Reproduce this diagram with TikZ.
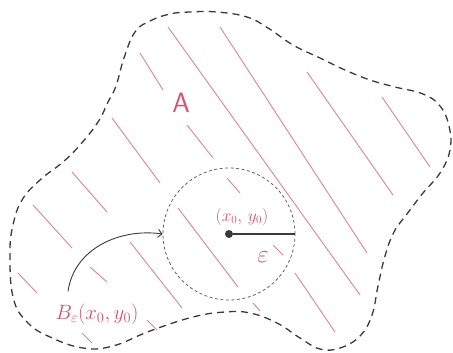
\documentclass[tikz,border=0pt]{standalone}
\usetikzlibrary{arrows.meta}
\definecolor{pinkink}{HTML}{D9506F}
\definecolor{hatchpink}{HTML}{E08196}
\definecolor{pencil}{HTML}{3A3A3A}
\begin{document}
\begin{tikzpicture}[x=1pt,y=-1pt,>={Straight Barb[length=4pt]},
  hatch/.style={hatchpink,line width=0.9pt},
  pinklabel/.style={text=pinkink,inner sep=0pt}]
\useasboundingbox (0,0) rectangle (453,353);
% hatching of the set A
\foreach \ax/\ay/\bx/\by in {140/53/163/90, 168/27/360/295, 220/27/367/253, 187/125/213/158,
  295/273/335/332, 307/72/393/195, 382/97/430/167, 112/118/160/183, 72/172/107/212,
  33/205/72/248, 227/178/240/193, 178/208/238/287, 130/242/182/308, 18/273/37/293,
  90/267/107/282, 147/320/157/330, 82/333/92/343, 273/245/283/255, 253/303/260/311}
  \draw[hatch] (\ax,\ay) -- (\bx,\by);
% outline of A
\draw[pencil,line width=1.3pt,dash pattern=on 7pt off 5pt] plot[smooth cycle,tension=0.7] coordinates {
  (135,32) (150,21) (170,14) (190,12) (217,12) (247,17) (268,28) (293,45) (320,58) (345,70)
  (370,80) (395,87) (423,94) (440,106) (449,126) (450,150) (440,173) (423,193) (407,214)
  (394,232) (385,256) (378,286) (372,315) (360,336) (340,348) (320,349) (300,338) (277,323)
  (250,313) (225,312) (193,317) (150,331) (113,346) (83,348) (50,337) (27,322) (13,297)
  (10,252) (13,225) (22,200) (40,180) (63,162) (80,145) (98,122) (108,102) (116,86) (124,58)};
% the ball
\node[circle,draw=pencil!80,line width=0.8pt,dash pattern=on 3pt off 2.5pt,
  minimum size=132pt,inner sep=0pt] (ball) at (229,234) {};
\node[circle,fill=pencil,minimum size=8pt,inner sep=0pt] (ctr) at (229,234) {};
\draw[pencil,line width=1.2pt] (ctr) -- (ball.east);
% labels
\node[pinklabel,font=\fontsize{28}{30}\selectfont] (setA) at (181,103) {\textsf{A}};
\node[pinklabel,font=\fontsize{16}{18}\selectfont] (pt) at (242,217) {$(x_0,\,y_0)$};
\node[pinklabel,font=\fontsize{24}{26}\selectfont] (eps) at (263,257) {$\varepsilon$};
\node[pinklabel,font=\fontsize{22}{24}\selectfont] (bl) at (97,314) {$B_{\varepsilon}(x_0,y_0)$};
\draw[->,pencil,line width=0.9pt] ([xshift=-29pt,yshift=12pt]bl.north) to[out=82,in=172] (ball.west);
\end{tikzpicture}
\end{document}
